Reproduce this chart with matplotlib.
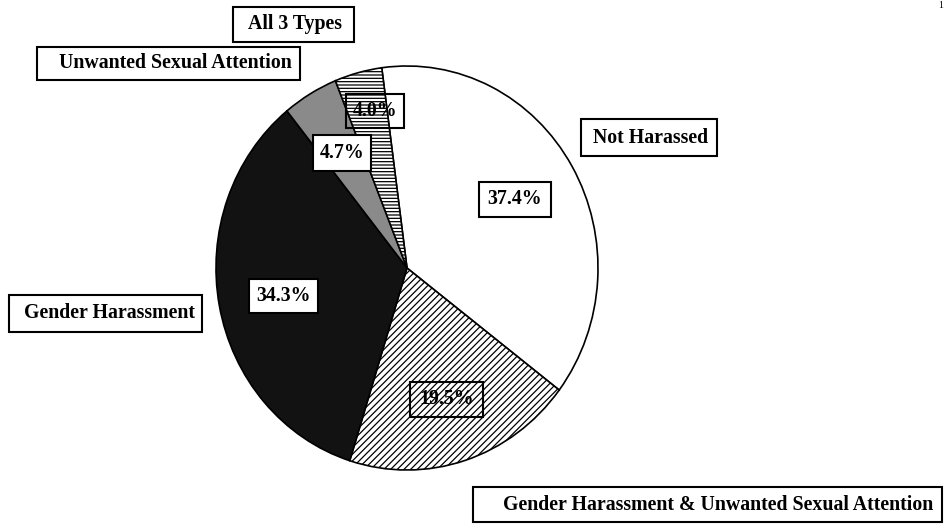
import matplotlib.pyplot as plt
from matplotlib.patches import Rectangle

plt.rcParams['font.family'] = ['Liberation Serif', 'DejaVu Serif']
plt.rcParams['hatch.linewidth'] = 0.9

# datos del grafico
categorias = ['Not Harassed',
              'Gender Harassment & Unwanted Sexual Attention',
              'Gender Harassment',
              'Unwanted Sexual Attention',
              'All 3 Types']
porcentajes = [37.4, 19.5, 34.3, 4.7, 4.0]

colores = ['white', 'white', '#121212', '#8a8a8a', 'white']
tramas = [None, '/////', None, None, '-----']

# cajas de las etiquetas (x0, y0, x1, y1 en pixeles de la imagen 945x525) y centro del texto
caja_nombre = [(581, 119, 717, 156), (473, 487, 942, 522), (9, 295, 202, 332),
               (37, 47, 300, 80), (233, 7, 354, 42)]
txt_nombre = [(651, 138), (718, 505), (110, 313), (175, 63), (295, 24)]
caja_pct = [(479, 182, 551, 217), (410, 382, 483, 417), (249, 279, 318, 313),
            (313, 135, 371, 171), (346, 94, 404, 128)]
fondo_pct = ['white', 'none', 'white', 'white', 'none']

W, H = 945, 525
cx, cy, rx, ry = 407, 268, 191, 202


def a_datos(px, py):
    return (px - cx) / rx, (cy - py) / ry


def a_fig(px, py):
    return px / W, 1 - py / H


def caja(x0, y0, x1, y1, fc):
    fx0, fy1 = a_fig(x0, y1)
    r = Rectangle((fx0, fy1), (x1 - x0) / W, (y1 - y0) / H, transform=fig.transFigure,
                  facecolor=fc, edgecolor='black', linewidth=1.5, zorder=3)
    fig.patches.append(r)


fig = plt.figure(figsize=(W / 100, H / 100), dpi=100)
ax = fig.add_axes([0, 0, 1, 1])

wedges, _ = ax.pie(porcentajes, colors=colores, startangle=97.6, counterclock=False,
                   wedgeprops=dict(edgecolor='black', linewidth=1.2))
for w, t in zip(wedges, tramas):
    if t:
        w.set_hatch(t)

ax.set_aspect('auto')
ax.set_xlim(a_datos(0, 0)[0], a_datos(W, 0)[0])
ax.set_ylim(a_datos(0, H)[1], a_datos(0, 0)[1])
ax.axis('off')

for nombre, b, (px, py) in zip(categorias, caja_nombre, txt_nombre):
    caja(*b, 'white')
    fx, fy = a_fig(px, py)
    fig.text(fx, fy, nombre, ha='center', va='center', fontsize=14.3, fontweight='bold', zorder=4)

for v, b, fc in zip(porcentajes, caja_pct, fondo_pct):
    caja(*b, fc)
    fx, fy = a_fig((b[0] + b[2]) / 2, (b[1] + b[3]) / 2)
    fig.text(fx, fy, f'{v:.1f}%', ha='center', va='center', fontsize=14.3, fontweight='bold', zorder=4)

fig.text(941 / W, 1 - 5 / H, '1', fontsize=7, ha='center', va='center')

plt.savefig('out.png', dpi=100)
